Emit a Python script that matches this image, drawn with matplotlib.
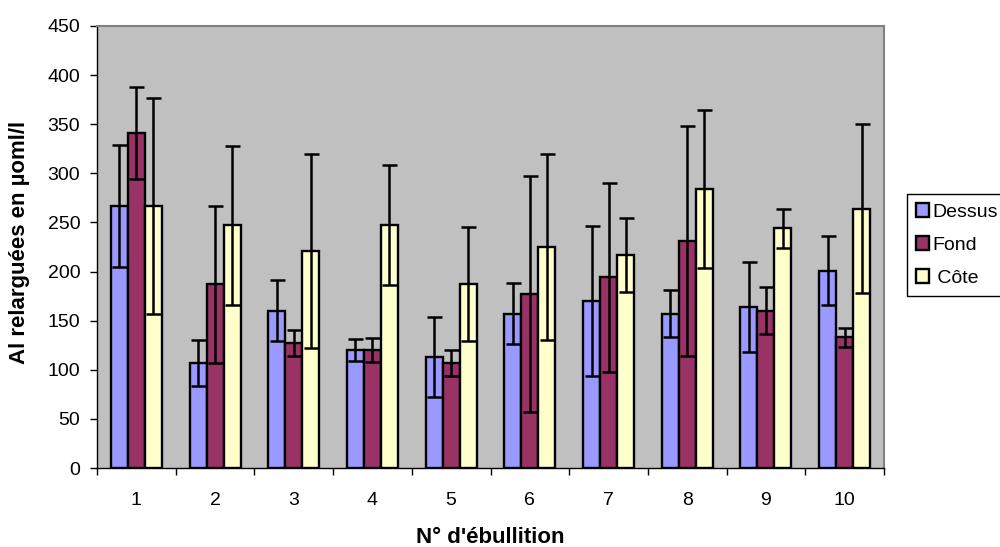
import matplotlib
matplotlib.use("Agg")
import matplotlib.pyplot as plt
import numpy as np

plt.rcParams['font.family'] = ['Liberation Sans', 'DejaVu Sans']

groups = ['1', '2', '3', '4', '5', '6', '7', '8', '9', '10']
series = ['Dessus', 'Fond', ' Côte']
dessus = [267, 107, 160, 120, 113, 157, 170, 157, 164, 201]
dessus_err = [62, 23, 31, 11, 41, 31, 76, 24, 46, 35]
fond = [341, 187, 127, 120, 107, 177, 194, 231, 160, 133]
fond_err = [47, 80, 13, 12, 13, 120, 96, 117, 24, 10]
cote = [267, 247, 221, 247, 187, 225, 217, 284, 244, 264]
cote_err = [110, 81, 99, 61, 58, 95, 38, 80, 20, 86]
colors = ['#9999FF', '#993366', '#FFFFCC']

fig = plt.figure(figsize=(10, 5.47), dpi=100)
ax = fig.add_axes([0.097, 0.1444, 0.787, 0.8081])
ax.set_facecolor('#C0C0C0')

x = np.arange(1, len(groups) + 1)
w = 0.216
vals = [dessus, fond, cote]
errs = [dessus_err, fond_err, cote_err]
for i, (v, e, c, lab) in enumerate(zip(vals, errs, colors, series)):
    pos = x + (i - 1) * w
    ax.bar(pos, v, width=w, color=c, edgecolor='black', linewidth=1.7, label=lab, zorder=2)
    ax.errorbar(pos, v, yerr=e, fmt='none', ecolor='black', elinewidth=1.8,
                capsize=5.4, capthick=1.8, zorder=3)

ax.set_xlim(0.5, len(groups) + 0.5)
ax.set_ylim(0, 450)
ax.set_yticks(np.arange(0, 451, 50))
ax.set_xticks(x)
ax.set_xticklabels(groups)
ax.set_xticks(np.arange(0.5, len(groups) + 1, 1), minor=True)
ax.tick_params(axis='x', which='major', length=0, pad=17, labelsize=14)
ax.tick_params(axis='x', which='minor', length=5, width=1, direction='out')
ax.tick_params(axis='y', length=5, width=1, direction='out', labelsize=14, pad=7)

for s in ['top', 'right']:
    ax.spines[s].set_color('#808080')
    ax.spines[s].set_linewidth(1.5)
for s in ['left', 'bottom']:
    ax.spines[s].set_color('black')
    ax.spines[s].set_linewidth(1)

fig.text(0.02, 0.556, 'Al relarguées en µoml/l', rotation=90, ha='center', va='center',
         fontsize=16, fontweight='bold')
fig.text(0.49, 0.017, "N° d'ébullition", ha='center', va='center',
         fontsize=16, fontweight='bold')

leg = fig.legend(loc='upper left', bbox_to_anchor=(0.907, 0.645), fontsize=14,
                 frameon=True, fancybox=False, edgecolor='black', framealpha=1,
                 handlelength=0.7, handleheight=0.7, handletextpad=0.15,
                 borderpad=0.45, labelspacing=0.8, borderaxespad=0)
leg.get_frame().set_linewidth(1)

fig.savefig('out.png', dpi=100)
